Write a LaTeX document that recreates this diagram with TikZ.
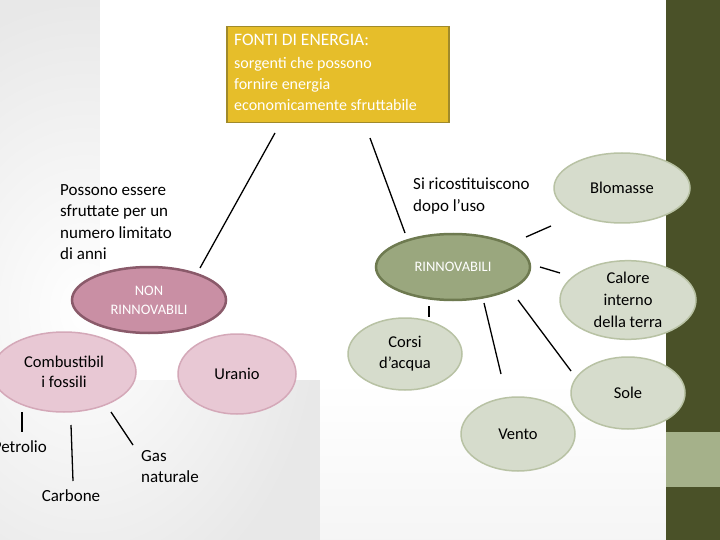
\documentclass[tikz,border=0pt]{standalone}
\usepackage{fontspec}
\setmainfont{Carlito}[Ligatures=ResetAll]
\usetikzlibrary{shapes.geometric}
\definecolor{olive}{HTML}{4A5128}
\definecolor{olivel}{HTML}{A5B18A}
\definecolor{gold}{HTML}{E6BE2A}
\definecolor{goldb}{HTML}{A08A2A}
\definecolor{rin}{HTML}{9AA77E}
\definecolor{rinb}{HTML}{6E7A50}
\definecolor{non}{HTML}{C98FA4}
\definecolor{nonb}{HTML}{8A5A6A}
\definecolor{pk}{HTML}{E8C8D4}
\definecolor{pkb}{HTML}{D4A8B8}
\definecolor{gr}{HTML}{D6DCCC}
\definecolor{grb}{HTML}{B8C2A4}
\begin{document}
\begin{tikzpicture}[x=1pt,y=-1pt,
  el/.style={ellipse,draw,line width=1.5pt,inner sep=0pt,align=center,font=\fontsize{16.5}{20}\selectfont},
  pkel/.style={el,fill=pk,draw=pkb},
  grel/.style={el,fill=gr,draw=grb},
  lbl/.style={align=left,font=\fontsize{17}{21.5}\selectfont,inner sep=0pt},
  seg/.style={line width=1.3pt}]
\useasboundingbox (0,0) rectangle (720,540);
\clip (0,0) rectangle (720,540);
\fill[white] (0,0) rectangle (666,540);
\shade[inner color=white,outer color=gray!18] (-150,0) rectangle (320,620);
\shade[top color=white,bottom color=white!70!gray!25] (320,380) rectangle (666,540);
\fill[white] (100,0) rectangle (666,380);
\fill[olive] (666,0) rectangle (720,540);
\fill[olivel] (666,432) rectangle (720,487);
% title
\node[draw=goldb,fill=gold,line width=1.5pt,minimum width=222,minimum height=96,anchor=north west] (t) at (226,26) {};
\node[anchor=north west,text=white,align=left,inner sep=0pt,font=\fontsize{17.5}{18}\selectfont] (t1) at (234,34) {FONTI DI ENERGIA:};
\node[anchor=north west,text=white,align=left,inner sep=0pt,font=\fontsize{16}{21}\selectfont] (t2) at (234,57) {sorgenti che possono\\fornire energia\\economicamente sfruttabile};
% labels
\node[lbl,anchor=north west] (pos) at (60,184) {Possono essere\\sfruttate per un\\numero limitato\\di anni};
\node[lbl,anchor=north west] (si) at (413,178) {Si ricostituiscono\\dopo l'uso};
% main ellipses
\node[el,fill=rin,draw=rinb,line width=2.5pt,minimum width=154,minimum height=66,text=white,font=\fontsize{14.5}{16}\selectfont] (r) at (453,267) {RINNOVABILI};
\node[el,fill=non,draw=nonb,line width=2.5pt,minimum width=154,minimum height=66,text=white,font=\fontsize{14.5}{19}\selectfont] (n) at (149,300) {NON\\RINNOVABILI};
\node[pkel,minimum width=144,minimum height=80] (c) at (64,372) {Combustibil\\i fossili};
\node[pkel,minimum width=118,minimum height=80] (u) at (237,374) {Uranio};
\node[grel,minimum width=136,minimum height=70] (b) at (622,188) {Blomasse};
\node[grel,minimum width=136,minimum height=72,font=\fontsize{16.5}{22}\selectfont] (ca) at (628,300) {Calore\\interno\\della terra};
\node[grel,minimum width=114,minimum height=72,font=\fontsize{16.5}{21}\selectfont] (co) at (405,354) {Corsi\\d'acqua};
\node[grel,minimum width=114,minimum height=74] (v) at (518,434) {Vento};
\node[grel,minimum width=114,minimum height=72] (so) at (628,393) {Sole};
% leaves
\node[lbl,anchor=east] (pe) at (47,447) {Petrolio};
\node[lbl] (cb) at (71,496) {Carbone};
\node[lbl,anchor=north west] (gn) at (141,450) {Gas\\naturale};
% segments
\foreach \n/\a/\b/\c/\d in {s1/275/133/200/268, s2/370/138/405/233, s3/526/237/551/226, s4/540/267/560/273, s5/429/306/429/317, s6/484/303/501/374, s7/518/300/571/371, s8/22/412/22/432, s9/71/425/73/481, s10/111/412/133/445}{
  \coordinate (\n a) at (\a,\b); \coordinate (\n b) at (\c,\d);
  \draw[seg] (\n a) -- (\n b);}
\end{tikzpicture}
\end{document}
